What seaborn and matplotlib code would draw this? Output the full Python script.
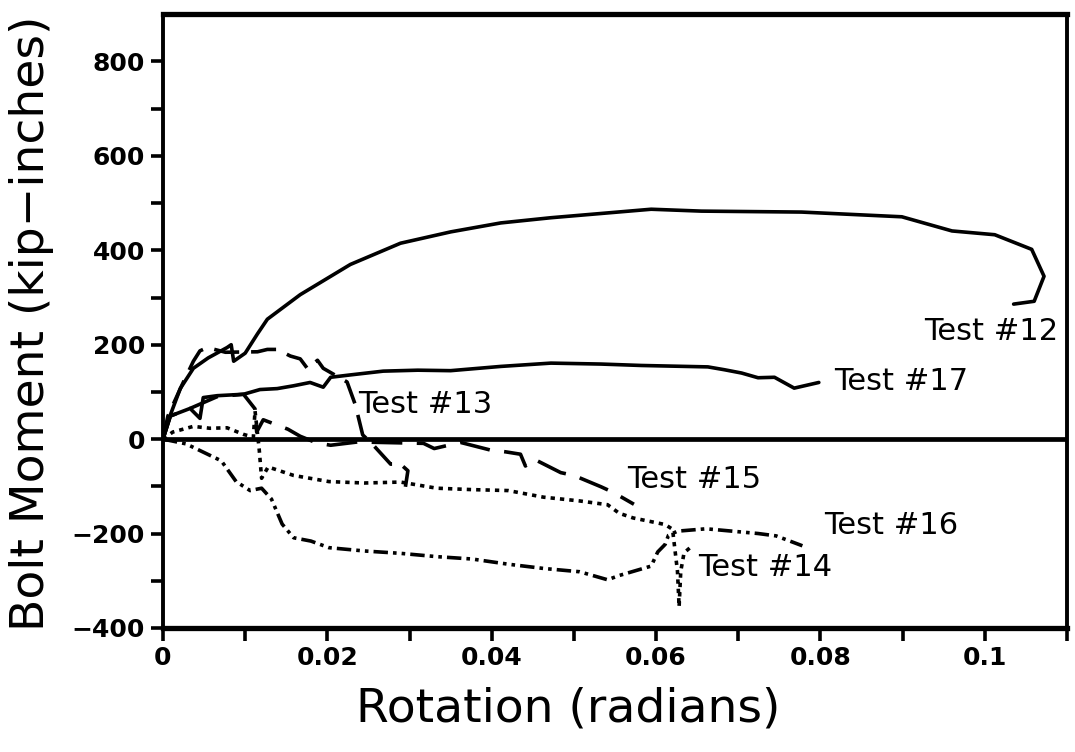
import matplotlib
matplotlib.use("Agg")
import matplotlib.pyplot as plt
import seaborn as sns
import numpy as np
import pandas as pd
from matplotlib.ticker import FixedLocator

sns.set_theme(style="white")
plt.rcParams['font.family'] = ['DejaVu Sans']
plt.rcParams['text.color'] = 'black'
plt.rcParams['axes.labelcolor'] = 'black'
plt.rcParams['xtick.color'] = 'black'
plt.rcParams['ytick.color'] = 'black'

# ---- data (rotation in radians, bolt moment in kip-inches) ----
t12_x = [0, 0.00085, 0.0021, 0.0037, 0.0055, 0.0078, 0.0083, 0.0086, 0.0100, 0.0115, 0.0127,
         0.0167, 0.0228, 0.0289, 0.0350, 0.0411, 0.0472, 0.0533, 0.0594, 0.0655, 0.0777,
         0.0899, 0.0960, 0.1012, 0.1057, 0.1072, 0.1060, 0.1035]
t12_y = [0, 49, 107, 150, 172, 194, 200, 165, 182, 223, 254,
         306, 370, 415, 439, 458, 469, 478, 487, 483, 481,
         471, 441, 433, 402, 345, 292, 286]

t13_x = [0, 0.0006, 0.0023, 0.0037, 0.0045, 0.0054, 0.0076, 0.0115, 0.0127, 0.0139, 0.0155,
         0.0167, 0.0176, 0.0188, 0.0195, 0.0224, 0.0234, 0.0243, 0.0255, 0.0277, 0.0289,
         0.0298, 0.0295]
t13_y = [0, 49, 114, 165, 187, 194, 184, 185, 190, 190, 176,
         170, 149, 167, 150, 121, 73, 9, -11, -53, -53,
         -67, -101]

t14_x = [0, 0.0012, 0.0037, 0.0057, 0.0078, 0.0098, 0.0110, 0.0112, 0.0117, 0.0120, 0.0128,
         0.0159, 0.0202, 0.0245, 0.0289, 0.0333, 0.0376, 0.0420, 0.0463, 0.0507, 0.0541,
         0.0555, 0.0572, 0.0611, 0.0620, 0.0626, 0.0628, 0.0630, 0.0634, 0.0644]
t14_y = [0, 15, 27, 23, 24, 10, 4, 60, -20, -83, -59,
         -77, -90, -93, -91, -104, -107, -109, -123, -131, -139,
         -157, -167, -181, -191, -280, -355, -280, -241, -226]

t15_x = [0, 0.0009, 0.0033, 0.0066, 0.0098, 0.0112, 0.0114, 0.0122, 0.0152, 0.0167, 0.0187,
         0.0204, 0.0237, 0.0317, 0.0330, 0.0362, 0.0398, 0.0417, 0.0435, 0.0441, 0.0451,
         0.0484, 0.0500, 0.0533, 0.0548, 0.0573]
t15_y = [0, 49, 65, 90, 95, 64, 15, 41, 21, 6, -8,
         -13, -6, -9, -20, -7, -23, -27, -32, -57, -42,
         -71, -77, -101, -113, -138]

t16_x = [0, 0.0028, 0.0071, 0.0089, 0.0106, 0.0120, 0.0132, 0.0145, 0.0159, 0.0180, 0.0202,
         0.0245, 0.0289, 0.0333, 0.0376, 0.0420, 0.0463, 0.0507, 0.0541, 0.0555, 0.0594,
         0.0602, 0.0611, 0.0615, 0.0626, 0.0661, 0.0724, 0.0746, 0.0778]
t16_y = [0, -10, -46, -90, -109, -104, -127, -180, -209, -216, -230,
         -237, -242, -249, -254, -265, -274, -281, -298, -289, -269,
         -239, -223, -204, -195, -190, -200, -205, -226]

t17_x = [0, 0.0009, 0.0033, 0.0045, 0.0049, 0.0066, 0.0098, 0.0118, 0.0139, 0.0159, 0.0179,
         0.0195, 0.0204, 0.0228, 0.0268, 0.0310, 0.0350, 0.0411, 0.0472, 0.0533, 0.0582,
         0.0663, 0.0683, 0.0704, 0.0724, 0.0744, 0.0768, 0.0798]
t17_y = [0, 49, 65, 44, 88, 92, 95, 105, 107, 113, 120,
         110, 131, 136, 144, 146, 145, 154, 161, 159, 156,
         153, 147, 140, 130, 131, 108, 120]

label_text = ["Test #12", "Test #17", "Test #13", "Test #15", "Test #16", "Test #14"]
label_x = [0.0926, 0.0816, 0.0237, 0.0565, 0.0804, 0.0651]
label_y = [227, 123, 73, -85, -182, -273]

x_ticks = [0, 0.02, 0.04, 0.06, 0.08, 0.1]
x_tick_labels = ["0", "0.02", "0.04", "0.06", "0.08", "0.1"]
y_ticks = [-400, -200, 0, 200, 400, 600, 800]
y_tick_labels = ["\u2212400", "\u2212200", "0", "200", "400", "600", "800"]

# ---- figure ----
fig = plt.figure(figsize=(10.75, 7.52), dpi=100)
ax = fig.add_axes([0.1516, 0.165, 0.841, 0.816])

lw = 2.6
series = [
    (t12_x, t12_y, "-"),
    (t17_x, t17_y, "-"),
    (t13_x, t13_y, (0, (7, 3.3))),
    (t15_x, t15_y, (0, (8.5, 4))),
    (t14_x, t14_y, (0, (1.2, 1.4))),
    (t16_x, t16_y, (0, (4, 1.4, 1.0, 1.4, 1.0, 1.4))),
]
for xs, ys, ls in series:
    sns.lineplot(x=xs, y=ys, sort=False, estimator=None, ax=ax, color="black",
                 linewidth=lw, linestyle=ls)

ax.axhline(0, color="black", linewidth=3.4, zorder=1)

for t, x, y in zip(label_text, label_x, label_y):
    ax.text(x, y, t, fontsize=22, ha="left", va="center", color="black")

ax.set_xlim(0, 0.11)
ax.set_ylim(-400, 900)
ax.xaxis.set_major_locator(FixedLocator(x_ticks))
ax.set_xticklabels(x_tick_labels)
ax.xaxis.set_minor_locator(FixedLocator([0.01, 0.03, 0.05, 0.07, 0.09, 0.11]))
ax.yaxis.set_major_locator(FixedLocator(y_ticks))
ax.set_yticklabels(y_tick_labels)
ax.yaxis.set_minor_locator(FixedLocator([-300, -100, 100, 300, 500, 700]))

ax.tick_params(axis="both", which="both", direction="out", length=9, width=2.6,
               color="black", bottom=True, left=True, top=False, right=False)
ax.tick_params(axis="both", which="major", labelsize=18, pad=4, labelcolor="black")
for lab in ax.get_xticklabels() + ax.get_yticklabels():
    lab.set_fontweight("bold")

for side, w in [("left", 2.8), ("bottom", 3.8), ("top", 3.8), ("right", 2.8)]:
    ax.spines[side].set_visible(True)
    ax.spines[side].set_color("black")
    ax.spines[side].set_linewidth(w)

ax.set_xlabel("Rotation (radians)", fontsize=34, color="black")
ax.xaxis.set_label_coords(0.448, -0.095)
ax.set_ylabel("Bolt Moment (kip\u2212inches)", fontsize=34, color="black")
ax.yaxis.label.set_va("center")
ax.yaxis.set_label_coords(-0.145, 0.497)
ax.grid(False)

fig.savefig("out.png", dpi=100, facecolor="white")
